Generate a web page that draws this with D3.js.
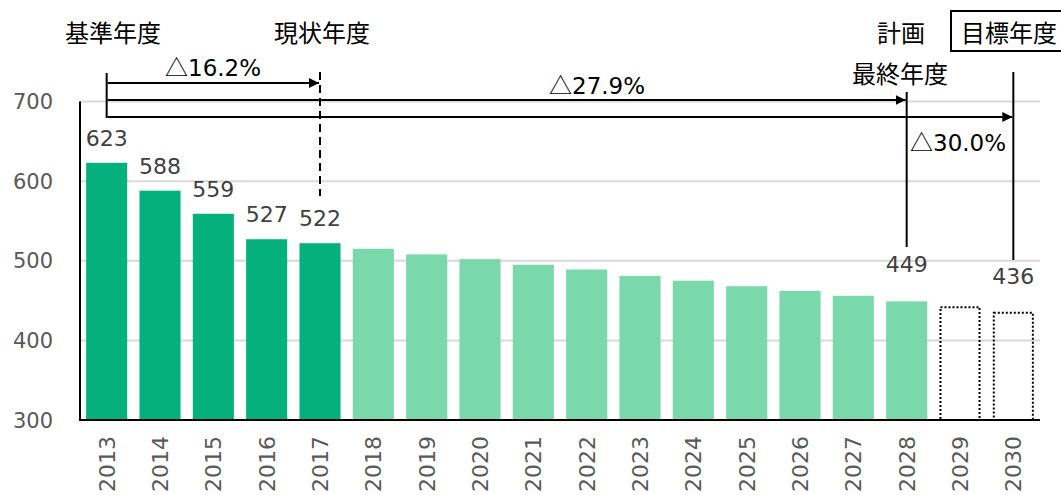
<!DOCTYPE html>
<html>
<head>
<meta charset="utf-8">
<script src="https://cdn.jsdelivr.net/npm/d3@7"></script>
<style>
  body { margin: 0; background: #fff; }
  text { font-family: "DejaVu Sans", "Noto Sans CJK JP", sans-serif; }
  text.cjk, tspan.cjk { font-family: "Noto Sans CJK JP", sans-serif; }
</style>
</head>
<body>
<div id="chart"></div>
<script>
// data
const years = ["2013","2014","2015","2016","2017","2018","2019","2020","2021","2022",
               "2023","2024","2025","2026","2027","2028","2029","2030"];
const values = [623, 588, 559, 527, 522, 515, 508, 502, 495, 489, 481, 475, 468, 462, 456, 449, 443, 436];
// bar kind: actual / plan / target
const kinds = ["actual","actual","actual","actual","actual","plan","plan","plan","plan","plan",
               "plan","plan","plan","plan","plan","plan","target","target"];
const labelled = ["2013","2014","2015","2016","2017","2028","2030"];
const yTicks = [300, 400, 500, 600, 700];

// reduction arrows: from base year to end year
const arrows = [
  {to: "2017", y: 83, pct: "16.2%"},
  {to: "2028", y: 100, pct: "27.9%"},
  {to: "2030", y: 117, pct: "30.0%"}
];

const width = 1061, height = 495;
const svg = d3.select("#chart").append("svg")
    .attr("width", width)
    .attr("height", height);

const x = d3.scaleBand()
    .domain(years)
    .range([80, 1040])
    .paddingInner(0.23)
    .paddingOuter(0.115);

const y = d3.scaleLinear()
    .domain([300, 700])
    .range([420, 101.5]);

const cx = d => x(d) + x.bandwidth() / 2;

// gridlines
svg.append("g")
  .selectAll("line")
  .data(yTicks.slice(1))
  .join("line")
    .attr("x1", 80).attr("x2", 1040)
    .attr("y1", d => y(d)).attr("y2", d => y(d))
    .attr("stroke", "#d9d9d9")
    .attr("stroke-width", 2);

// y axis labels
svg.append("g")
  .selectAll("text")
  .data(yTicks)
  .join("text")
    .attr("x", 53)
    .attr("y", d => y(d))
    .attr("dy", "0.36em")
    .attr("text-anchor", "end")
    .attr("fill", "#595959")
    .style("font-size", "21px")
    .text(d => d);

// bars
const data = years.map((d, i) => ({year: d, value: values[i], kind: kinds[i]}));
const colors = {actual: "#04b07c", plan: "#79d9aa"};

svg.append("g")
  .selectAll("rect")
  .data(data.filter(d => d.kind !== "target"))
  .join("rect")
    .attr("x", d => x(d.year))
    .attr("y", d => y(d.value))
    .attr("width", x.bandwidth())
    .attr("height", d => y(300) - y(d.value))
    .attr("fill", d => colors[d.kind]);

svg.append("g")
  .selectAll("rect")
  .data(data.filter(d => d.kind === "target"))
  .join("rect")
    .attr("x", d => x(d.year) + 1)
    .attr("y", d => y(d.value) + 1)
    .attr("width", x.bandwidth() - 2)
    .attr("height", d => y(300) - y(d.value) - 1)
    .attr("fill", "none")
    .attr("stroke", "#000")
    .attr("stroke-width", 2)
    .attr("stroke-dasharray", "2,2");

// axes lines
svg.append("line")
    .attr("x1", 80).attr("x2", 80)
    .attr("y1", y(700)).attr("y2", y(300))
    .attr("stroke", "#000").attr("stroke-width", 2);
svg.append("line")
    .attr("x1", 79).attr("x2", 1040)
    .attr("y1", y(300)).attr("y2", y(300))
    .attr("stroke", "#000").attr("stroke-width", 2);

// x labels (rotated)
svg.append("g")
  .selectAll("text")
  .data(years)
  .join("text")
    .attr("transform", d => `translate(${cx(d)},436) rotate(-90)`)
    .attr("dy", "0.36em")
    .attr("text-anchor", "end")
    .attr("fill", "#595959")
    .style("font-size", "22px")
    .text(d => d);

// value labels
const labelOffset = {"2028": 29, "2030": 28};
svg.append("g")
  .selectAll("text")
  .data(data.filter(d => labelled.includes(d.year)))
  .join("text")
    .attr("x", d => cx(d.year))
    .attr("y", d => y(d.value) - (labelOffset[d.year] || 17))
    .attr("text-anchor", "middle")
    .attr("fill", "#404040")
    .style("font-size", "22px")
    .text(d => d.value);

// annotations
const ann = svg.append("g");
svg.append("defs").append("marker")
    .attr("id", "arrow")
    .attr("viewBox", "0 0 10 10")
    .attr("refX", 10).attr("refY", 5)
    .attr("markerWidth", 5).attr("markerHeight", 5)
    .attr("markerUnits", "strokeWidth")
    .attr("orient", "auto")
  .append("path")
    .attr("d", "M0,0 L10,5 L0,10 Z")
    .attr("fill", "#000");

const x0 = cx("2013");
ann.append("line")
    .attr("x1", x0).attr("x2", x0)
    .attr("y1", 73).attr("y2", 118)
    .attr("stroke", "#000").attr("stroke-width", 2);

// vertical markers
ann.append("line")
    .attr("x1", cx("2017")).attr("x2", cx("2017"))
    .attr("y1", 72).attr("y2", 196)
    .attr("stroke", "#000").attr("stroke-width", 2)
    .attr("stroke-dasharray", "8,5");
ann.append("line")
    .attr("x1", cx("2028")).attr("x2", cx("2028"))
    .attr("y1", 92).attr("y2", 247)
    .attr("stroke", "#000").attr("stroke-width", 2);
ann.append("line")
    .attr("x1", cx("2030")).attr("x2", cx("2030"))
    .attr("y1", 72).attr("y2", 260)
    .attr("stroke", "#000").attr("stroke-width", 2);

ann.selectAll("line.arr")
  .data(arrows)
  .join("line")
    .attr("class", "arr")
    .attr("x1", x0 + 1)
    .attr("x2", d => cx(d.to) - 1)
    .attr("y1", d => d.y).attr("y2", d => d.y)
    .attr("stroke", "#000").attr("stroke-width", 2)
    .attr("marker-end", "url(#arrow)");

const arrowLabelPos = [
  {x: 165, y: 68},
  {x: 549, y: 86},
  {x: 910, y: 143}
];
const pctText = ann.selectAll("text.arr")
  .data(arrows)
  .join("text")
    .attr("class", "arr")
    .attr("x", (d, i) => arrowLabelPos[i].x)
    .attr("y", (d, i) => arrowLabelPos[i].y)
    .attr("dy", "0.36em")
    .attr("fill", "#000")
    .style("font-size", "23px");
pctText.append("tspan").attr("class", "cjk").text("△");
pctText.append("tspan").text(d => d.pct);

// header labels
const heads = [
  {text: "基準年度", x: 113, y: 33},
  {text: "現状年度", x: 322, y: 33},
  {text: "計画", x: 901, y: 33},
  {text: "最終年度", x: 900, y: 74},
  {text: "目標年度", x: 1009, y: 33}
];
ann.selectAll("text.head")
  .data(heads)
  .join("text")
    .attr("class", "head cjk")
    .attr("x", d => d.x)
    .attr("y", d => d.y)
    .attr("dy", "0.36em")
    .attr("text-anchor", "middle")
    .attr("fill", "#000")
    .style("font-size", "24px")
    .text(d => d.text);

ann.append("rect")
    .attr("x", 951).attr("y", 11)
    .attr("width", 120).attr("height", 40)
    .attr("fill", "none")
    .attr("stroke", "#000").attr("stroke-width", 2);
</script>
</body>
</html>
